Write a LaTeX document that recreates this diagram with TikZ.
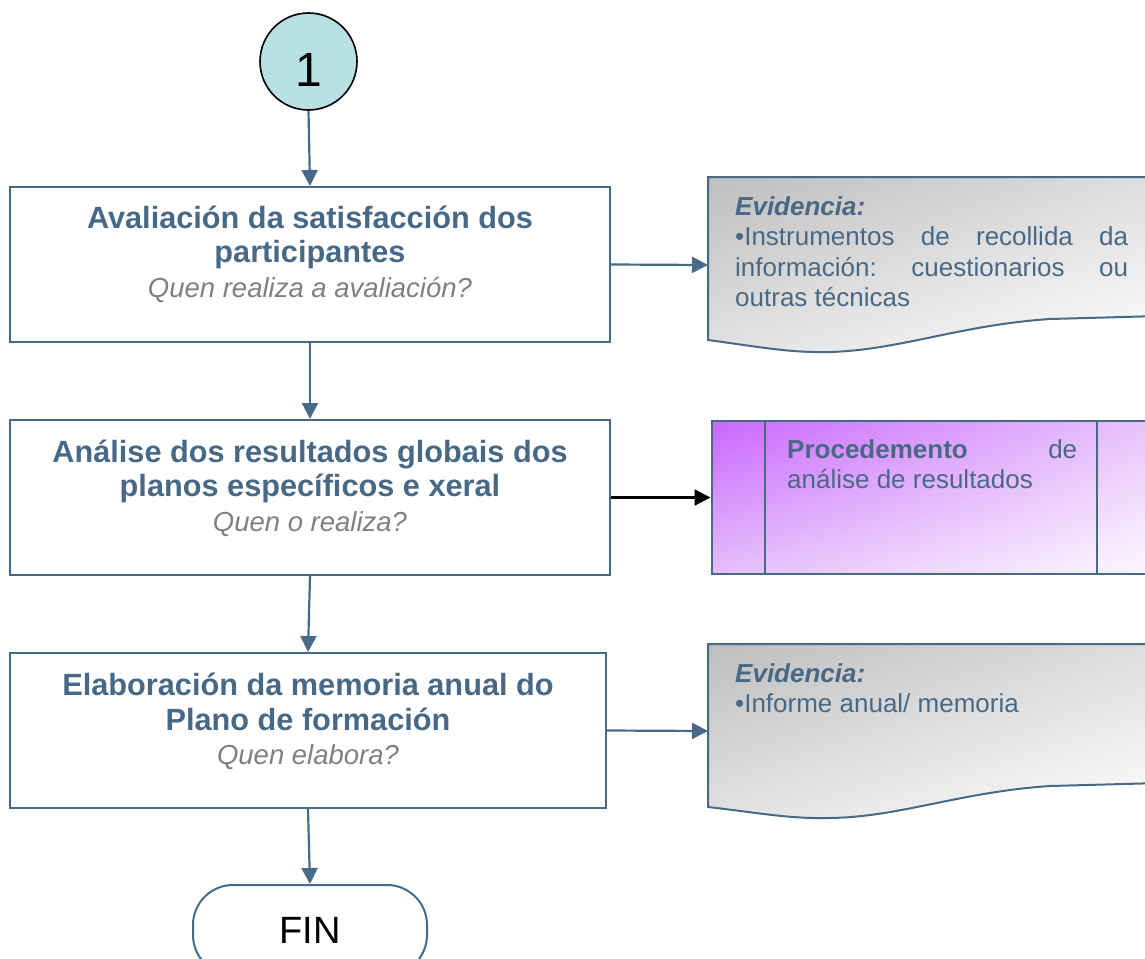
\documentclass[tikz,border=0pt]{standalone}
\usepackage{fontspec}
\setmainfont{Liberation Sans}
\usetikzlibrary{arrows.meta,shadings}
\definecolor{slate}{RGB}{72,105,134}
\definecolor{linec}{RGB}{72,106,136}
\definecolor{circfill}{RGB}{185,224,227}
\definecolor{ital}{RGB}{128,128,128}
\definecolor{purp}{RGB}{201,102,255}
\definecolor{purpur}{RGB}{236,206,250}
\definecolor{purpll}{RGB}{228,190,250}
\definecolor{grul}{RGB}{190,190,190}
\definecolor{grur}{RGB}{222,222,222}
\definecolor{grll}{RGB}{226,226,226}
\tikzset{
  procbox/.style={draw=linec, line width=2pt, minimum height=155pt, inner sep=0pt},
  proctext/.style={align=center, inner sep=0pt, text=slate, font=\fontsize{30.7}{34.5}\selectfont\bfseries},
  conn/.style={draw=linec, line width=2.2pt, -{Triangle[length=16pt,width=16pt]}},
  evid/.style={draw=linec, line width=2pt, upper left=grul, upper right=grur, lower left=grll, lower right=white},
  evtext/.style={anchor=north west, align=left, inner sep=0pt, text=slate, font=\fontsize{26}{30.5}\selectfont}
}
\newcommand\qline[1]{{\fontsize{27.5}{34.5}\selectfont\mdseries\itshape\color{ital}#1}}
\begin{document}
\begin{tikzpicture}[x=1pt,y=-1pt]
\useasboundingbox (0,0) rectangle (1145,958);
\clip (0,0) rectangle (1145,958);

% start circle
\node[circle, draw=black, line width=1.6pt, fill=circfill, minimum size=97pt, inner sep=0pt] (c1) at (308.5,61.5)
  {\fontsize{48}{48}\selectfont\raisebox{-8pt}[34pt][0pt]{1}};

% process boxes
\node[procbox, minimum width=600pt] (b1) at (310,264.5) {};
\node[proctext] (t1) at (310,254) {Avaliación da satisfacción dos\\participantes\\\qline{Quen realiza a avaliación?}};

\node[procbox, minimum width=600pt] (b2) at (310,497.5) {};
\node[proctext] (t2) at (310,488) {Análise dos resultados globais dos\\planos específicos e xeral\\\qline{Quen o realiza?}};

\node[procbox, minimum width=596pt] (b3) at (308,730.5) {};
\node[proctext] (t3) at (308,721.5) {Elaboración da memoria anual do\\Plano de formación\\\qline{Quen elabora?}};

% terminal
\node[draw=linec, line width=2pt, rounded corners=40pt, minimum width=234pt, minimum height=90pt, inner sep=0pt,
  font=\fontsize{38}{38}\selectfont] (fin) at (310,930) {FIN};

% evidence 1
\shade[evid] (708,177) -- (1160,177) -- (1160,316) -- (1050,319)
  .. controls (960,325) and (900,350) .. (830,352)
  .. controls (790,353) and (760,347) .. (708,340) -- cycle;
\coordinate (e1) at (708,265);
\node[evtext] (et1) at (735,196) {\textbf{\itshape Evidencia:}\\
  \hbox to 393pt{•Instrumentos\hfill de\hfill recollida\hfill da}\\
  \hbox to 393pt{información:\hfill cuestionarios\hfill ou}\\
  outras técnicas};

% procedure box
\node[draw=linec, line width=2pt, minimum width=488.5pt, minimum height=153pt, inner sep=0pt,
  upper left=purp, upper right=purpur, lower left=purpll, lower right=white] (p) at (955.75,497.5) {};
\draw[linec, line width=2pt] (764.5,421) -- (764.5,574);
\draw[linec, line width=2pt] (1097,421) -- (1097,574);
\node[evtext] (pt) at (787,439) {\hbox to 290pt{\textbf{Procedemento}\hfill de}\\análise de resultados};

% evidence 2
\shade[evid] (708,644) -- (1160,644) -- (1160,783) -- (1050,786)
  .. controls (960,792) and (900,817) .. (830,818)
  .. controls (790,819) and (760,813) .. (708,807) -- cycle;
\coordinate (e2) at (708,731);
\node[evtext] (et2) at (735,663) {\textbf{\itshape Evidencia:}\\•Informe anual/ memoria};

% connectors
\draw[conn] (c1.south) -- (b1.north);
\draw[conn] (b1.south) -- (b2.north);
\draw[conn] (b2.south) -- (b3.north);
\draw[conn] (b3.south) -- (fin.north);
\draw[conn] (b1.east) -- (e1);
\draw[conn, draw=black] (b2.east) -- (p.west);
\draw[conn] (b3.east) -- (e2);
\end{tikzpicture}
\end{document}
